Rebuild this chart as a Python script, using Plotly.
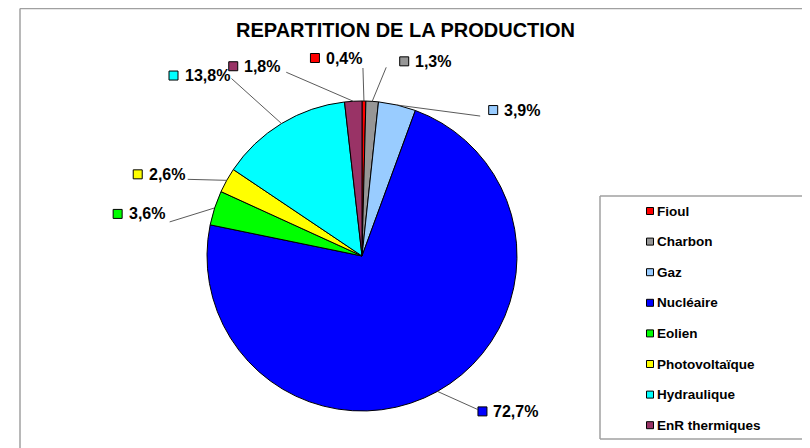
import math
import plotly.graph_objects as go

# ---- data ----
categories = ["Fioul", "Charbon", "Gaz", "Nucléaire", "Eolien",
              "Photovoltaïque", "Hydraulique", "EnR thermiques"]
values = [0.4, 1.3, 3.9, 72.7, 3.6, 2.6, 13.8, 1.8]
value_labels = ["0,4%", "1,3%", "3,9%", "72,7%", "3,6%", "2,6%", "13,8%", "1,8%"]
title_text = "REPARTITION DE LA PRODUCTION"

# ---- style ----
colors = ["#FF0000", "#969696", "#99CCFF", "#0000FF", "#00FF00",
          "#FFFF00", "#00FFFF", "#993366"]
OFF = 8                      # page body margin
W, H = 810 - OFF, 448 - OFF  # figure size
CX, CY, R = 362, 256, 155    # pie centre / radius in window pixels
# leader line end offset from slice edge midpoint, and square offset from line end (pixels)
line_off = [(-1, -33), (14, -34), (83, 11), (40, 18), (-45, 14), (-39, -1), (-50, -45), (-67, -29)]
sq_off = [(-48, -10), (18, -6), (13, -6), (5, 2), (-52, -8), (-50, -5), (-58, -3), (-53, -6)]
FONT = "Liberation Sans, Arial, sans-serif"
BORDER = dict(color="#A0A0A0", width=1.5)


def px(x):
    return (x - OFF) / W


def py(y):
    return 1 - (y - OFF) / H


def seg(x0, y0, x1, y1, line):
    return dict(type="line", xref="paper", yref="paper",
                x0=px(x0), y0=py(y0), x1=px(x1), y1=py(y1), line=line)


fig = go.Figure()
fig.add_trace(go.Pie(
    labels=categories, values=values, sort=False, direction="clockwise", rotation=0,
    marker=dict(colors=colors, line=dict(color="#000000", width=1)),
    textinfo="none", hoverinfo="label+percent", showlegend=False,
    domain=dict(x=[px(CX - R), px(CX + R)], y=[py(CY + R), py(CY - R)]),
))

shapes = []
annotations = []

# outer chart frame (continues beyond the window on the right and bottom)
shapes.append(seg(20, 8.5, 810, 8.5, BORDER))
shapes.append(seg(20, 8.5, 20, 448, BORDER))

# title
annotations.append(dict(text="<b>" + title_text + "</b>", xref="paper", yref="paper",
                        x=px(405), y=py(30), showarrow=False, xanchor="center", yanchor="middle",
                        font=dict(family=FONT, size=20, color="#000000")))

# data labels with leader lines
total = sum(values)
cum = 0.0
for i, v in enumerate(values):
    mid = (cum + v / 2) / total * 2 * math.pi
    cum += v
    ex = CX + R * math.sin(mid)
    ey = CY - R * math.cos(mid)
    lx = ex + line_off[i][0]
    ly = ey + line_off[i][1]
    shapes.append(seg(ex, ey, lx, ly, dict(color="#303030", width=0.8)))
    sx = lx + sq_off[i][0]
    sy = ly + sq_off[i][1]
    shapes.append(dict(type="rect", xref="paper", yref="paper",
                       x0=px(sx - 4.5), x1=px(sx + 4.5), y0=py(sy + 4.5), y1=py(sy - 4.5),
                       fillcolor=colors[i], line=dict(color="#000000", width=1)))
    annotations.append(dict(text="<b>" + value_labels[i] + "</b>", xref="paper", yref="paper",
                            x=px(sx + 9), y=py(sy), showarrow=False,
                            xanchor="left", yanchor="middle",
                            font=dict(family=FONT, size=16, color="#000000")))

# legend box (manual, open on the right like the reference)
shapes.append(seg(600, 196, 810, 196, BORDER))
shapes.append(seg(600, 196, 600, 439, BORDER))
shapes.append(seg(600, 439, 810, 439, BORDER))
for i, cat in enumerate(categories):
    ly = 211 + i * 30.6
    shapes.append(dict(type="rect", xref="paper", yref="paper",
                       x0=px(646.5), x1=px(653.5), y0=py(ly + 3.5), y1=py(ly - 3.5),
                       fillcolor=colors[i], line=dict(color="#000000", width=1)))
    annotations.append(dict(text="<b>" + cat + "</b>", xref="paper", yref="paper",
                            x=px(655), y=py(ly), showarrow=False,
                            xanchor="left", yanchor="middle",
                            font=dict(family=FONT, size=13.5, color="#000000")))

fig.update_layout(
    width=W, height=H, margin=dict(l=0, r=0, t=0, b=0),
    paper_bgcolor="#FFFFFF", plot_bgcolor="#FFFFFF",
    shapes=shapes, annotations=annotations, showlegend=False,
)

fig.write_html("out.html")
